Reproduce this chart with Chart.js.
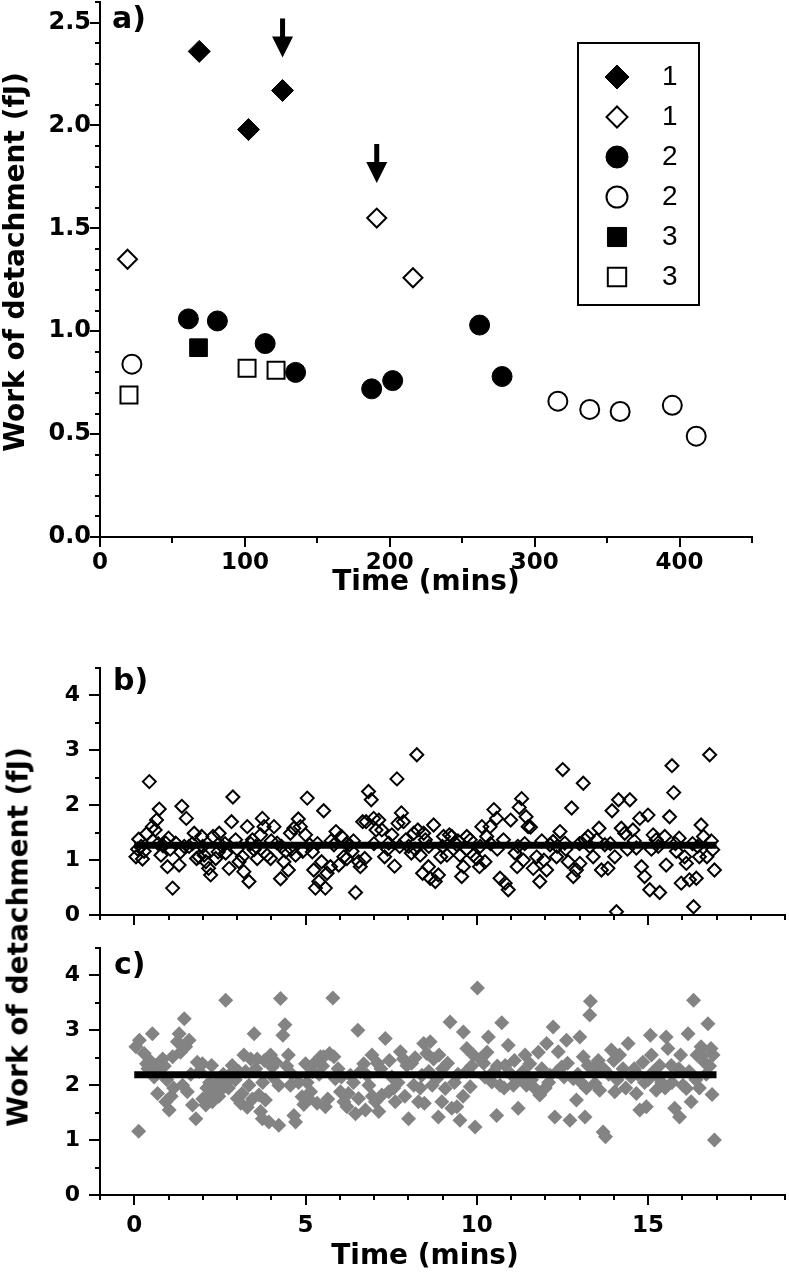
<!DOCTYPE html>
<html>
<head>
<meta charset="utf-8">
<script src="https://cdn.jsdelivr.net/npm/chart.js@4.4.1/dist/chart.umd.min.js"></script>
<style>
  body { margin: 0; background: #fff; }
  #wrap { position: relative; width: 789px; height: 1280px; overflow: hidden; background: #fff; }
  canvas { position: absolute; left: 0; }
  #chartA { top: 0; }
  #chartB { top: 640px; }
  #chartC { top: 940px; }
  #sharedTitle {
    position: absolute; left: 18px; top: 937px;
    transform: translate(-50%, -50%) rotate(-90deg);
    font: bold 28px "DejaVu Sans"; white-space: nowrap; color: #000;
  }
</style>
</head>
<body>
<div id="wrap">
  <canvas id="chartA" width="789" height="600"></canvas>
  <canvas id="chartB" width="789" height="300"></canvas>
  <canvas id="chartC" width="789" height="340"></canvas>
  <div id="sharedTitle">Work of detachment (fJ)</div>
</div>
<script>
// ---- panel a: work of detachment vs time, three runs ----
const seriesLabels = ['1', '1', '2', '2', '3', '3'];
const run1Filled = [[68.5, 2.36], [102.5, 1.98], [126, 2.17]];
const run1Open = [[19, 1.35], [191, 1.55], [216, 1.26]];
const run2Filled = [[61, 1.06], [81, 1.05], [114, 0.94], [135, 0.80], [187.5, 0.72], [202, 0.76], [262, 1.03], [277.5, 0.78]];
const run2Open = [[22, 0.84], [316, 0.66], [338, 0.62], [359, 0.61], [395, 0.64], [411.5, 0.49]];
const run3Filled = [[68, 0.92]];
const run3Open = [[20, 0.69], [101.5, 0.82], [121.5, 0.81]];
const arrowTime = [126, 191];
const arrowTipWork = [2.33, 1.72];
const arrowTailWork = [2.52, 1.91];
const aTimeTicks = [0, 100, 200, 300, 400];
const aWorkTicks = [0, 0.5, 1.0, 1.5, 2.0, 2.5];

// ---- panel b: single burst, open diamonds ----
const burstB = [
  [0.05,1.06],[0.10,1.20],[0.13,1.38],[0.20,1.25],[0.24,1.02],[0.29,1.16],[0.36,1.48],[0.44,2.43],[0.53,1.61],[0.55,1.35],
  [0.61,1.55],[0.65,1.73],[0.70,1.30],[0.73,1.93],[0.78,1.09],[0.84,1.26],[0.92,1.31],[0.97,0.88],[1.00,1.40],[1.05,1.20],
  [1.12,0.49],[1.21,1.31],[1.31,0.91],[1.35,1.15],[1.39,1.98],[1.46,1.25],[1.52,1.76],[1.60,1.25],[1.70,1.30],[1.75,1.49],
  [1.82,1.03],[1.89,1.06],[1.97,1.43],[2.00,1.25],[2.04,1.09],[2.09,0.97],[2.17,0.85],[2.23,0.73],[2.30,1.43],[2.38,1.03],
  [2.45,1.15],[2.48,1.49],[2.57,1.25],[2.65,1.30],[2.67,1.13],[2.77,0.85],[2.84,1.70],[2.88,2.15],[2.96,1.37],[3.00,1.20],
  [3.06,0.97],[3.16,1.06],[3.20,0.79],[3.30,1.61],[3.35,0.61],[3.40,1.30],[3.45,1.37],[3.50,1.19],[3.55,1.25],[3.59,1.03],
  [3.69,1.46],[3.74,1.76],[3.79,1.61],[3.88,1.09],[3.98,1.03],[4.00,1.35],[4.08,1.61],[4.17,1.31],[4.27,0.66],[4.30,1.25],
  [4.37,0.97],[4.42,1.16],[4.50,0.82],[4.56,1.49],[4.60,1.20],[4.66,1.58],[4.71,1.09],[4.79,1.75],[4.85,1.61],[4.92,1.16],
  [5.00,1.46],[5.05,2.13],[5.12,1.28],[5.20,1.15],[5.24,0.82],[5.29,0.49],[5.35,1.30],[5.39,0.61],[5.47,0.97],[5.53,1.90],
  [5.58,0.49],[5.63,0.76],[5.73,0.88],[5.75,1.35],[5.83,1.28],[5.89,1.52],[5.97,0.91],[6.05,1.43],[6.12,1.06],[6.20,1.30],
  [6.21,1.03],[6.28,1.28],[6.36,1.16],[6.40,1.35],[6.46,0.41],[6.55,0.97],[6.60,0.88],[6.67,1.70],[6.73,1.03],[6.77,1.70],
  [6.84,2.25],[6.92,2.10],[6.99,1.76],[7.00,1.30],[7.06,1.55],[7.14,1.73],[7.23,1.55],[7.31,1.06],[7.40,1.20],[7.43,1.31],
  [7.52,1.46],[7.60,0.89],[7.67,2.48],[7.70,1.67],[7.75,1.25],[7.80,1.86],[7.86,1.70],[7.93,1.37],[8.01,1.25],[8.09,1.13],
  [8.16,1.49],[8.20,1.20],[8.25,2.92],[8.28,1.55],[8.35,1.09],[8.42,0.76],[8.45,1.49],[8.50,1.37],[8.59,0.88],[8.60,1.25],
  [8.64,0.67],[8.74,1.64],[8.79,0.61],[8.88,0.73],[8.95,1.06],[9.00,1.25],[9.03,1.43],[9.13,1.09],[9.20,1.46],[9.27,1.43],
  [9.42,1.28],[9.45,1.35],[9.51,1.09],[9.56,0.70],[9.61,0.88],[9.70,1.20],[9.71,1.43],[9.81,1.37],[9.90,1.09],[10.00,1.03],
  [10.08,0.88],[10.10,1.25],[10.15,1.61],[10.24,0.97],[10.29,1.43],[10.39,1.61],[10.40,1.30],[10.50,1.92],[10.58,1.76],[10.60,1.20],
  [10.68,0.67],[10.78,1.37],[10.83,0.58],[10.92,0.46],[10.99,1.73],[11.12,1.13],[11.18,0.88],[11.20,1.25],[11.24,1.96],[11.31,2.12],
  [11.36,1.00],[11.40,1.30],[11.44,1.79],[11.50,1.61],[11.57,1.60],[11.65,0.85],[11.75,1.06],[11.84,0.61],[11.90,1.35],[11.96,1.00],
  [12.04,0.82],[12.14,1.28],[12.23,1.34],[12.33,1.06],[12.35,1.25],[12.43,1.52],[12.51,2.65],[12.57,1.31],[12.60,1.20],[12.67,0.97],
  [12.77,1.95],[12.82,0.70],[12.91,0.82],[13.00,1.30],[13.01,0.94],[13.11,2.40],[13.16,1.37],[13.25,1.43],[13.30,1.25],[13.40,1.06],
  [13.50,1.37],[13.57,1.58],[13.64,0.82],[13.74,1.28],[13.83,0.85],[13.90,1.30],[13.95,1.90],[14.03,1.06],[14.08,0.06],[14.14,2.10],
  [14.22,1.58],[14.32,1.49],[14.40,1.20],[14.47,2.10],[14.56,1.55],[14.60,1.35],[14.66,1.22],[14.76,1.76],[14.81,0.88],[14.90,0.70],
  [15.00,1.82],[15.05,0.46],[15.10,1.20],[15.15,1.46],[15.24,1.37],[15.30,1.25],[15.34,0.41],[15.49,1.43],[15.53,0.91],[15.63,1.79],
  [15.70,2.72],[15.75,2.23],[15.80,1.30],[15.83,1.16],[15.91,1.40],[15.97,0.58],[16.07,1.06],[16.12,0.94],[16.21,0.64],[16.30,1.30],
  [16.33,0.15],[16.41,0.67],[16.45,1.25],[16.50,1.06],[16.55,1.64],[16.62,1.43],[16.72,1.06],[16.80,2.92],[16.85,1.35],[16.89,1.19],
  [16.94,0.82]
];
const meanB = 1.27;

// ---- panel c: second burst, grey diamonds ----
const burstC = [
  [0.05,2.70],[0.13,1.16],[0.15,2.82],[0.29,2.58],[0.36,2.39],[0.40,2.30],[0.45,2.45],[0.49,2.24],[0.53,2.94],[0.58,2.15],
  [0.61,2.36],[0.68,1.85],[0.73,2.24],[0.83,2.48],[0.88,2.35],[0.92,1.70],[0.95,2.10],[1.02,1.55],[1.08,1.80],[1.12,2.52],
  [1.15,1.95],[1.26,2.79],[1.31,2.94],[1.35,2.60],[1.41,2.00],[1.46,3.21],[1.50,2.70],[1.55,1.88],[1.60,2.82],[1.65,2.20],
  [1.70,1.64],[1.80,1.39],[1.84,2.42],[1.90,2.25],[1.99,2.39],[2.00,1.75],[2.09,1.64],[2.12,1.95],[2.18,1.82],[2.20,2.05],
  [2.26,2.36],[2.28,1.70],[2.33,1.88],[2.38,1.98],[2.43,2.06],[2.47,1.80],[2.52,1.91],[2.55,2.15],[2.60,2.20],[2.67,3.55],
  [2.67,2.06],[2.75,1.95],[2.77,2.18],[2.86,2.36],[2.95,2.10],[3.01,1.76],[3.05,2.25],[3.11,1.67],[3.15,1.85],[3.20,2.55],
  [3.25,2.25],[3.30,1.60],[3.35,2.00],[3.40,2.48],[3.45,1.75],[3.50,2.94],[3.55,2.30],[3.59,2.48],[3.64,1.82],[3.69,1.52],
  [3.74,1.39],[3.75,2.05],[3.80,2.45],[3.83,1.73],[3.93,1.33],[3.98,2.55],[4.03,2.33],[4.05,2.15],[4.13,2.42],[4.22,2.00],
  [4.22,1.27],[4.27,3.58],[4.34,2.91],[4.40,3.10],[4.45,2.35],[4.50,2.55],[4.56,2.00],[4.60,2.20],[4.66,1.45],[4.71,1.33],
  [4.80,2.05],[4.90,1.79],[4.95,1.65],[5.00,2.39],[5.05,2.05],[5.10,1.75],[5.15,1.88],[5.20,2.25],[5.24,2.39],[5.34,1.67],
  [5.40,2.20],[5.44,2.52],[5.50,2.35],[5.53,2.52],[5.58,1.61],[5.65,1.75],[5.70,2.58],[5.80,3.59],[5.83,2.52],[5.87,2.12],
  [5.95,2.30],[6.02,1.88],[6.05,2.15],[6.12,1.70],[6.21,1.61],[6.25,1.85],[6.31,2.18],[6.40,2.05],[6.46,1.48],[6.53,3.00],
  [6.55,1.76],[6.60,2.25],[6.70,2.39],[6.75,1.55],[6.80,2.18],[6.85,2.00],[6.94,2.55],[6.95,1.80],[7.04,1.70],[7.10,2.40],
  [7.14,1.52],[7.20,2.30],[7.23,1.82],[7.33,2.85],[7.43,1.88],[7.45,2.45],[7.52,2.15],[7.58,1.95],[7.62,1.70],[7.70,2.05],
  [7.77,2.61],[7.86,2.48],[7.90,1.80],[7.96,2.36],[8.01,1.39],[8.10,2.40],[8.16,2.00],[8.20,2.50],[8.30,1.70],[8.35,1.95],
  [8.40,2.18],[8.45,2.76],[8.47,1.67],[8.54,2.58],[8.60,2.25],[8.64,2.79],[8.70,2.00],[8.74,2.48],[8.83,2.12],[8.88,1.42],
  [8.90,2.55],[8.98,1.70],[9.00,2.30],[9.08,1.94],[9.15,2.40],[9.22,3.15],[9.27,1.58],[9.35,2.05],[9.42,1.61],[9.45,2.20],
  [9.51,1.36],[9.60,1.80],[9.61,2.97],[9.70,2.25],[9.71,2.67],[9.81,1.97],[9.85,2.35],[9.90,2.55],[9.95,1.24],[10.02,3.77],
  [10.10,2.48],[10.20,2.40],[10.24,2.15],[10.30,2.60],[10.34,2.88],[10.44,2.06],[10.50,2.25],[10.58,1.45],[10.60,2.35],[10.68,2.00],
  [10.73,3.14],[10.80,1.95],[10.83,2.36],[10.92,2.73],[11.00,2.20],[11.07,2.00],[11.10,2.45],[11.21,1.58],[11.26,2.12],[11.35,2.25],
  [11.41,2.55],[11.45,2.00],[11.55,2.39],[11.60,2.10],[11.70,1.94],[11.80,2.60],[11.84,1.82],[11.90,2.30],[12.00,1.95],[12.04,2.76],
  [12.10,2.05],[12.14,2.18],[12.23,3.06],[12.28,1.42],[12.35,2.25],[12.38,2.61],[12.48,2.33],[12.55,2.15],[12.62,2.82],[12.65,2.40],
  [12.72,1.36],[12.82,2.12],[12.91,1.73],[12.95,2.20],[13.01,2.88],[13.05,2.05],[13.11,2.52],[13.16,1.42],[13.20,1.95],[13.25,2.36],
  [13.30,3.28],[13.32,3.53],[13.40,2.30],[13.45,2.03],[13.55,2.45],[13.59,1.91],[13.69,1.15],[13.70,2.30],[13.76,1.06],[13.85,2.20],
  [13.93,2.64],[14.00,2.45],[14.03,1.88],[14.10,2.10],[14.17,2.55],[14.27,2.30],[14.35,1.95],[14.42,2.76],[14.51,2.15],[14.60,2.30],
  [14.66,1.85],[14.70,2.20],[14.76,1.55],[14.85,2.42],[14.90,2.05],[14.95,1.61],[15.00,2.10],[15.07,2.91],[15.10,2.55],[15.15,2.24],
  [15.24,1.91],[15.30,2.15],[15.34,2.36],[15.40,2.05],[15.50,1.95],[15.53,2.88],[15.58,2.67],[15.68,2.36],[15.70,2.05],[15.78,1.58],
  [15.90,2.30],[15.92,1.42],[15.95,2.55],[16.02,2.00],[16.12,1.94],[16.17,2.94],[16.20,2.25],[16.26,1.70],[16.33,3.55],[16.40,2.10],
  [16.43,2.55],[16.50,1.95],[16.55,2.70],[16.60,2.55],[16.65,2.42],[16.70,2.20],[16.75,3.12],[16.80,2.35],[16.84,2.67],[16.87,1.83],
  [16.90,2.55],[16.94,1.00]
];
const meanC = 2.19;
const fitSpan = [0, 17];
const burstWorkTicks = [0, 1, 2, 3, 4];
const burstTimeTicks = [0, 5, 10, 15];

Chart.defaults.font.family = '"DejaVu Sans", sans-serif';
Chart.defaults.color = '#000';

const toPoints = arr => arr.map(p => ({ x: p[0], y: p[1] }));
const fixedTicks = values => scale => { scale.ticks = values.map(v => ({ value: v })); };

// outward tick marks, major ones longer
const tickMarks = {
    id: 'tickMarks',
    afterDraw(chart, args, opts) {
        const ctx = chart.ctx, area = chart.chartArea;
        ctx.save();
        ctx.strokeStyle = '#000';
        ctx.lineWidth = 2;
        ['x', 'y'].forEach(axis => {
            const o = opts[axis];
            if (!o) return;
            const scale = chart.scales[axis];
            const n = Math.round((scale.max - scale.min) / o.minor);
            for (let i = 0; i <= n; i++) {
                const v = scale.min + i * o.minor;
                const r = v / o.major;
                const len = Math.abs(r - Math.round(r)) < 1e-6 ? o.majorLen : o.minorLen;
                const p = Math.round(scale.getPixelForValue(v));
                ctx.beginPath();
                if (axis === 'x') { ctx.moveTo(p, area.bottom); ctx.lineTo(p, area.bottom + len); }
                else { ctx.moveTo(area.left, p); ctx.lineTo(area.left - len, p); }
                ctx.stroke();
            }
        });
        ctx.restore();
    }
};

// panel tag, arrows, legend box, free captions
const extras = {
    id: 'extras',
    afterDraw(chart, args, o) {
        const ctx = chart.ctx;
        ctx.save();
        if (o.tag) {
            ctx.font = o.tag.font;
            ctx.fillStyle = '#000';
            ctx.textAlign = 'left';
            ctx.textBaseline = 'middle';
            ctx.fillText(o.tag.text, o.tag.x, o.tag.y);
        }
        if (o.arrows) {
            const xs = chart.scales.x, ys = chart.scales.y;
            ctx.fillStyle = '#000';
            o.arrows.time.forEach((t, i) => {
                const x = xs.getPixelForValue(t);
                const tip = ys.getPixelForValue(o.arrows.tip[i]);
                const tail = ys.getPixelForValue(o.arrows.tail[i]);
                ctx.fillRect(x - 2.5, tail, 5, tip - tail - 18);
                ctx.beginPath();
                ctx.moveTo(x - 10.5, tip - 21);
                ctx.lineTo(x + 10.5, tip - 21);
                ctx.lineTo(x, tip);
                ctx.closePath();
                ctx.fill();
            });
        }
        if (o.legend) {
            const L = o.legend;
            ctx.lineWidth = 2;
            ctx.strokeStyle = '#000';
            ctx.strokeRect(L.left, L.top, L.width, L.height);
            chart.data.datasets.forEach((ds, i) => {
                const y = L.top + L.firstRow + i * L.rowGap;
                ctx.fillStyle = ds.backgroundColor;
                ctx.strokeStyle = ds.borderColor;
                ctx.lineWidth = ds.borderWidth;
                Chart.helpers.drawPoint(ctx, {
                    pointStyle: ds.pointStyle, radius: ds.pointRadius + 1,
                    borderWidth: ds.borderWidth, rotation: 0
                }, L.left + L.markerX, y);
                ctx.fillStyle = '#000';
                ctx.font = L.font;
                ctx.textAlign = 'left';
                ctx.textBaseline = 'middle';
                ctx.fillText(ds.label, L.left + L.textX, y);
            });
        }
        (o.captions || []).forEach(c => {
            ctx.save();
            ctx.font = c.font;
            ctx.fillStyle = '#000';
            ctx.textAlign = 'center';
            ctx.textBaseline = 'middle';
            ctx.translate(c.x, c.y);
            if (c.rotate) ctx.rotate(c.rotate);
            ctx.fillText(c.text, 0, 0);
            ctx.restore();
        });
        ctx.restore();
    }
};

const titleFont = 'bold 28px "DejaVu Sans"';
const noEdgePadding = s => { s.paddingTop = 0; s.paddingBottom = 0; };

// Panel a
const markerStyles = [
    { pointStyle: 'rectRot', pointRadius: 11, backgroundColor: '#000', borderColor: '#000', borderWidth: 1 },
    { pointStyle: 'rectRot', pointRadius: 9.5, backgroundColor: 'rgba(0,0,0,0)', borderColor: '#000', borderWidth: 2 },
    { pointStyle: 'circle', pointRadius: 10, backgroundColor: '#000', borderColor: '#000', borderWidth: 1 },
    { pointStyle: 'circle', pointRadius: 9.5, backgroundColor: 'rgba(0,0,0,0)', borderColor: '#000', borderWidth: 2 },
    { pointStyle: 'rect', pointRadius: 12.5, backgroundColor: '#000', borderColor: '#000', borderWidth: 1 },
    { pointStyle: 'rect', pointRadius: 12, backgroundColor: 'rgba(0,0,0,0)', borderColor: '#000', borderWidth: 2 }
];
const runSeries = [run1Filled, run1Open, run2Filled, run2Open, run3Filled, run3Open];

new Chart(document.getElementById('chartA'), {
    type: 'scatter',
    data: {
        datasets: runSeries.map((s, i) => Object.assign({
            label: seriesLabels[i],
            data: toPoints(s)
        }, markerStyles[i]))
    },
    options: {
        responsive: false,
        animation: false,
        events: [],
        layout: { autoPadding: false, padding: { top: 2, right: 37, bottom: 0, left: 0 } },
        plugins: {
            legend: { display: false },
            tooltip: { enabled: false },
            tickMarks: {
                x: { minor: 50, major: 100, majorLen: 10, minorLen: 6 },
                y: { minor: 0.1, major: 0.5, majorLen: 10, minorLen: 5 }
            },
            extras: {
                tag: { text: 'a)', x: 112, y: 20, font: 'bold 30px "DejaVu Sans"' },
                arrows: { time: arrowTime, tip: arrowTipWork, tail: arrowTailWork },
                legend: { left: 578, top: 43, width: 121, height: 262, firstRow: 34, rowGap: 40,
                          markerX: 39, textX: 84, font: '28px "Liberation Sans"' },
                captions: [
                    { text: 'Work of detachment (fJ)', x: 17, y: 262, rotate: -Math.PI / 2, font: titleFont }
                ]
            }
        },
        scales: {
            x: {
                type: 'linear', min: 0, max: 450,
                grid: { display: false, drawTicks: false },
                border: { display: true, color: '#000', width: 2 },
                afterBuildTicks: fixedTicks(aTimeTicks),
                ticks: { padding: 12, color: '#000', font: { size: 23, weight: 'bold' } },
                title: { display: true, text: 'Time (mins)', color: '#000',
                         font: { size: 28, weight: 'bold' }, padding: 0 },
                afterFit: s => { s.height = 63; }
            },
            y: {
                type: 'linear', min: 0, max: 2.6,
                grid: { display: false, drawTicks: false },
                border: { display: true, color: '#000', width: 2 },
                afterBuildTicks: fixedTicks(aWorkTicks),
                ticks: { padding: 9, color: '#000', font: { size: 24, weight: 'bold' },
                         callback: v => v.toFixed(1) },
                afterFit: s => { s.width = 100; noEdgePadding(s); }
            }
        }
    },
    plugins: [tickMarks, extras]
});

// Panels b and c share the same axes layout
function burstChart(id, points, mean, pointStyle, extraOpts, showTimeLabels, xHeight, padTop) {
    return new Chart(document.getElementById(id), {
        type: 'scatter',
        data: {
            datasets: [
                {
                    type: 'line', label: 'mean', order: 0,
                    data: fitSpan.map(t => ({ x: t, y: mean })),
                    borderColor: '#000', borderWidth: 7, pointRadius: 0, fill: false
                },
                Object.assign({ label: 'burst', order: 1, data: toPoints(points) }, pointStyle)
            ]
        },
        options: {
            responsive: false,
            animation: false,
            events: [],
            layout: { autoPadding: false, padding: { top: padTop, right: 4, bottom: 0, left: 0 } },
            plugins: {
                legend: { display: false },
                tooltip: { enabled: false },
                tickMarks: {
                    x: { minor: 1, major: 5, majorLen: 10, minorLen: 5 },
                    y: { minor: 0.5, major: 1, majorLen: 11, minorLen: 5 }
                },
                extras: extraOpts
            },
            scales: {
                x: {
                    type: 'linear', min: -1, max: 19,
                    grid: { display: false, drawTicks: false },
                    border: { display: true, color: '#000', width: 2 },
                    afterBuildTicks: fixedTicks(burstTimeTicks),
                    ticks: { display: showTimeLabels, padding: 17, color: '#000', font: { size: 23, weight: 'bold' } },
                    afterFit: s => { s.height = xHeight; }
                },
                y: {
                    type: 'linear', min: 0, max: 4.5,
                    grid: { display: false, drawTicks: false },
                    border: { display: true, color: '#000', width: 2 },
                    afterBuildTicks: fixedTicks(burstWorkTicks),
                    ticks: { padding: 20, color: '#000', font: { size: 22, weight: 'bold' } },
                    afterFit: s => { s.width = 100; noEdgePadding(s); }
                }
            }
        },
        plugins: [tickMarks, extras]
    });
}

burstChart('chartB', burstB, meanB,
    { pointStyle: 'rectRot', pointRadius: 6.5, backgroundColor: 'rgba(0,0,0,0)', borderColor: '#000', borderWidth: 2 },
    { tag: { text: 'b)', x: 113, y: 42, font: 'bold 30px "DejaVu Sans"' } },
    false, 25, 28);

burstChart('chartC', burstC, meanC,
    { pointStyle: 'rectRot', pointRadius: 7.5, backgroundColor: '#838383', borderColor: '#838383', borderWidth: 0 },
    { tag: { text: 'c)', x: 114, y: 26, font: 'bold 30px "DejaVu Sans"' },
      captions: [{ text: 'Time (mins)', x: 425, y: 317, font: titleFont }] },
    true, 85, 8);
</script>
</body>
</html>
